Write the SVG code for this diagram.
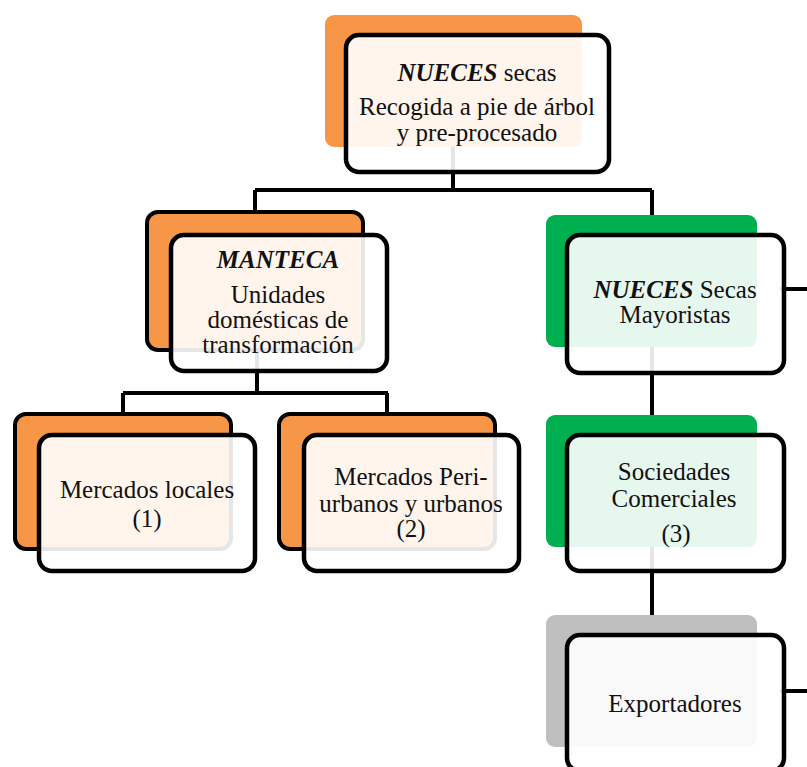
<svg xmlns="http://www.w3.org/2000/svg" width="807" height="767" viewBox="0 0 807 767">
<style>
.bg{fill:#ffffff}
.con{stroke:#000;stroke-width:4;fill:none}
.bo{fill:#F79646}
.bok{fill:#F79646;stroke:#000;stroke-width:4}
.bgr{fill:#00B050}
.bgy{fill:#BFBFBF}
.front{fill:#fff;fill-opacity:0.9;stroke:#000;stroke-width:4.5}
text{font-family:"Liberation Serif","Times New Roman",serif;font-size:25px;fill:#111;text-anchor:middle}
.bi{font-weight:bold;font-style:italic}
</style>
<rect class="bg" x="0" y="0" width="807" height="767"/>
<g id="connectors">
<path class="con" d="M453 120 V190 M255 190 H652 M255 190 V212 M652 190 V220"/>
<path class="con" d="M257 340 V393 M123 393 H388 M123 393 V414 M387 393 V414"/>
<path class="con" d="M652 330 V420 M652 530 V620"/>
<path class="con" d="M780 289 H807 M780 691 H807"/>
</g>
<g id="node-top">
<rect class="bo" x="325" y="15" width="257" height="132" rx="9"/>
<rect class="front" x="346" y="35" width="263" height="137" rx="13"/>
<text x="477" y="81"><tspan class="bi">NUECES</tspan> secas</text>
<text x="477" y="115">Recogida a pie de árbol</text>
<text x="477" y="141">y pre-procesado</text>
</g>
<g id="node-manteca">
<rect class="bok" x="147" y="212" width="216" height="138" rx="11"/>
<rect class="front" x="171" y="235" width="216" height="136" rx="13"/>
<text x="278" y="268" class="bi">MANTECA</text>
<text x="278" y="303">Unidades</text>
<text x="278" y="328">domésticas de</text>
<text x="278" y="353">transformación</text>
</g>
<g id="node-mayoristas">
<rect class="bgr" x="546" y="215" width="211" height="132" rx="9"/>
<rect class="front" x="567" y="235" width="217" height="138" rx="13"/>
<text x="675" y="298"><tspan class="bi">NUECES</tspan> Secas</text>
<text x="675" y="323">Mayoristas</text>
</g>
<g id="node-sociedades">
<rect class="bgr" x="546" y="415" width="211" height="132" rx="9"/>
<rect class="front" x="567" y="435" width="217" height="136" rx="13"/>
<text x="674" y="480">Sociedades</text>
<text x="674" y="507">Comerciales</text>
<text x="676" y="542">(3)</text>
</g>
<g id="node-exportadores">
<rect class="bgy" x="546" y="615" width="211" height="132" rx="9"/>
<rect class="front" x="567" y="635" width="217" height="136" rx="13"/>
<text x="675" y="712">Exportadores</text>
</g>
<g id="node-locales">
<rect class="bok" x="15" y="414" width="216" height="135" rx="11"/>
<rect class="front" x="39" y="435" width="216" height="136" rx="13"/>
<text x="147" y="498">Mercados locales</text>
<text x="147" y="527">(1)</text>
</g>
<g id="node-urbanos">
<rect class="bok" x="279" y="414" width="216" height="135" rx="11"/>
<rect class="front" x="304" y="435" width="215" height="136" rx="13"/>
<text x="411" y="485">Mercados Peri-</text>
<text x="411" y="512">urbanos y urbanos</text>
<text x="411" y="537">(2)</text>
</g>
</svg>
